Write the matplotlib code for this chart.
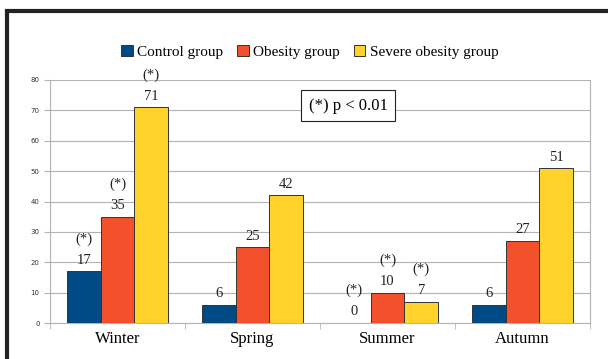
import matplotlib.pyplot as plt
import numpy as np
from matplotlib.patches import Rectangle

seasons = ["Winter", "Spring", "Summer", "Autumn"]
groups = ["Control group", "Obesity group", "Severe obesity group"]
control = [17, 6, 0, 6]
obesity = [35, 25, 10, 27]
severe = [71, 42, 7, 51]
# significance marks (*) per group, per season
sig_control = [True, False, True, False]
sig_obesity = [True, False, True, False]
sig_severe = [True, False, True, False]

colors = ["#004a86", "#f2512b", "#ffd32c"]
serif = ["Liberation Serif", "DejaVu Serif"]

fig = plt.figure(figsize=(6.08, 3.59), dpi=100)
ax = fig.add_axes([50 / 608, 1 - 323 / 359, 540 / 608, 243 / 359])

# dark frame around the chart
fig.patches.append(Rectangle((7 / 608, -0.1), 1.2, 1 - 11 / 359 + 0.1,
                             transform=fig.transFigure, fill=False,
                             edgecolor="#222222", linewidth=3, zorder=0))

x = np.arange(len(seasons))
w = 0.25
series = [control, obesity, severe]
sigs = [sig_control, sig_obesity, sig_severe]
for i, (vals, sig) in enumerate(zip(series, sigs)):
    pos = x + (i - 1) * w
    ax.bar(pos, vals, w, color=colors[i], edgecolor="#333333", linewidth=0.7,
           label=groups[i], zorder=3)
    for p, v, s in zip(pos, vals, sig):
        ax.text(p, v + 1.5, str(v), ha="center", va="bottom",
                fontsize=10.5, family=serif, color="#222222")
        if s:
            ax.text(p, v + 8.5, "(*)", ha="center", va="bottom",
                    fontsize=10.5, family=serif, color="#222222")

ax.set_xlim(-0.5, 3.5)
ax.set_ylim(0, 80)
ax.set_yticks(range(0, 81, 10))
ax.set_xticks(x)
ax.set_xticklabels(seasons, fontsize=12, family=serif)
ax.set_xticks(np.arange(-0.5, 4, 1), minor=True)
ax.tick_params(axis="x", which="major", length=0, pad=6)
ax.tick_params(axis="x", which="minor", length=4, color="#b3b3b3")
ax.tick_params(axis="y", labelsize=5, length=4, color="#b3b3b3",
               labelcolor="#333333")
ax.grid(axis="y", color="#b3b3b3", linewidth=0.8, zorder=0)
for sp in ax.spines.values():
    sp.set_color("#b3b3b3")
ax.spines["top"].set_visible(False)

ax.text(0.552, 0.895, "(*) p < 0.01", transform=ax.transAxes, ha="center",
        va="center", fontsize=12, family=serif,
        bbox=dict(boxstyle="square,pad=0.45", facecolor="white",
                  edgecolor="#222222", linewidth=0.8))

fig.legend(loc="center", bbox_to_anchor=(0.51, 1 - 52 / 359), ncol=3,
           frameon=False, prop={"family": serif, "size": 11},
           handlelength=0.75, handleheight=0.75, handletextpad=0.3,
           columnspacing=0.9)

fig.savefig("out.png", dpi=100)
